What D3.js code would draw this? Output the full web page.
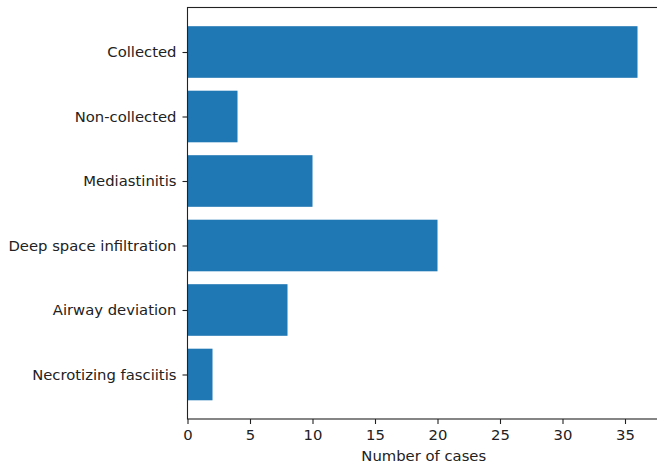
<!DOCTYPE html>
<html>
<head>
<meta charset="utf-8">
<script src="https://cdn.jsdelivr.net/npm/d3@7"></script>
<style>
  body { margin: 0; background: #fff; }
  svg { display: block; font-family: "DejaVu Sans", sans-serif; }
</style>
</head>
<body>
<svg width="657" height="463"></svg>
<script>
"use strict";

const categories = ["Collected", "Non-collected", "Mediastinitis", "Deep space infiltration", "Airway deviation", "Necrotizing fasciitis"];
const cases = [36, 4, 10, 20, 8, 2];
const xTicks = [0, 5, 10, 15, 20, 25, 30, 35];

const plotLeft = 187.5, plotRight = 660, plotTop = 7.5, plotBottom = 419;
const font = "DejaVu Sans, sans-serif";
const fontSize = 14.8;
const svg = d3.select("svg");

const x = d3.scaleLinear().domain([0, 37.8]).range([plotLeft, plotRight]);
// matplotlib-like band: centers at integer positions, bar height 0.8
const y = d3.scaleLinear().domain([-0.69, 5.69]).range([plotTop, plotBottom]);

svg.selectAll("rect.bar")
  .data(cases)
  .enter()
  .append("rect")
  .attr("class", "bar")
  .attr("x", x(0))
  .attr("y", (d, i) => y(i - 0.4))
  .attr("width", d => x(d) - x(0))
  .attr("height", (d, i) => y(i + 0.4) - y(i - 0.4))
  .style("fill", "#1f77b4");

// x axis
const xAxis = svg.append("g")
  .attr("transform", `translate(0, ${plotBottom})`)
  .call(d3.axisBottom(x).tickValues(xTicks).tickSize(5).tickPadding(5).tickSizeOuter(0));
xAxis.attr("font-family", font).attr("font-size", fontSize);
xAxis.select(".domain").remove();
xAxis.selectAll("text").style("fill", "#222");
xAxis.selectAll("line").style("stroke", "#222").style("stroke-width", 1.1);

// y axis
const yAxis = svg.append("g")
  .attr("transform", `translate(${plotLeft}, 0)`)
  .call(d3.axisLeft(y).tickValues(d3.range(categories.length)).tickFormat(i => categories[i]).tickSize(5).tickPadding(6).tickSizeOuter(0));
yAxis.attr("font-family", font).attr("font-size", fontSize);
yAxis.select(".domain").remove();
yAxis.selectAll("text").style("fill", "#222");
yAxis.selectAll("line").style("stroke", "#222").style("stroke-width", 1.1);

// spines
svg.append("rect")
  .attr("x", plotLeft)
  .attr("y", plotTop)
  .attr("width", plotRight - plotLeft)
  .attr("height", plotBottom - plotTop)
  .style("fill", "none")
  .style("stroke", "#222")
  .style("stroke-width", 1.1);

svg.append("text")
  .attr("x", (plotLeft + plotRight) / 2)
  .attr("y", 461)
  .attr("text-anchor", "middle")
  .style("font-size", fontSize + "px")
  .style("fill", "#222")
  .text("Number of cases");
</script>
</body>
</html>
